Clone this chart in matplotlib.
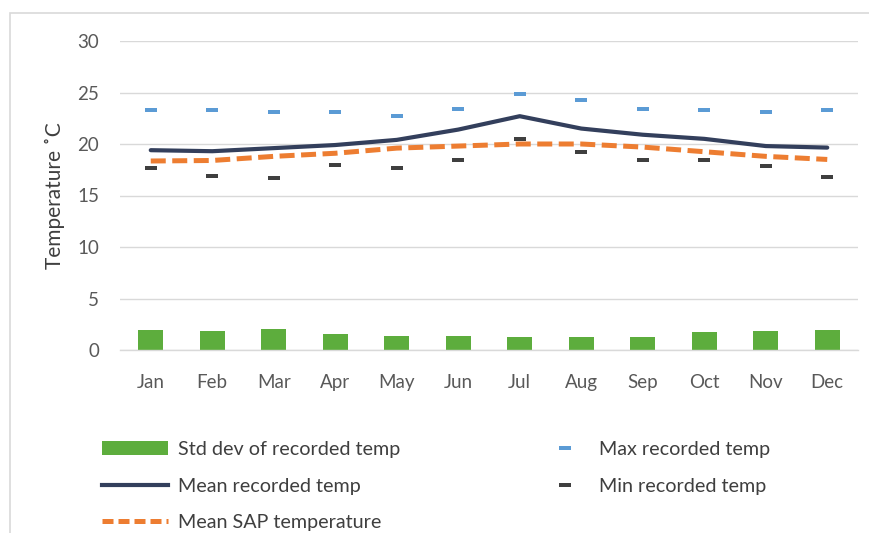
import matplotlib
matplotlib.use("Agg")
import matplotlib.pyplot as plt
from matplotlib.lines import Line2D
from matplotlib.patches import Patch, Rectangle
import numpy as np

months = ["Jan", "Feb", "Mar", "Apr", "May", "Jun",
          "Jul", "Aug", "Sep", "Oct", "Nov", "Dec"]
std_dev = [1.94, 1.84, 2.07, 1.60, 1.40, 1.40, 1.26, 1.26, 1.23, 1.70, 1.84, 1.90]
mean_recorded = [19.4, 19.3, 19.6, 19.9, 20.4, 21.4, 22.7, 21.5, 20.9, 20.5, 19.8, 19.65]
mean_sap = [18.35, 18.4, 18.8, 19.1, 19.6, 19.8, 20.0, 20.0, 19.7, 19.25, 18.8, 18.5]
max_recorded = [23.3, 23.3, 23.1, 23.1, 22.7, 23.4, 24.9, 24.3, 23.4, 23.3, 23.1, 23.3]
min_recorded = [17.7, 16.9, 16.7, 18.0, 17.7, 18.4, 20.5, 19.2, 18.4, 18.4, 17.9, 16.8]
y_ticks = [0, 5, 10, 15, 20, 25, 30]

GREEN = "#5DAD3D"
NAVY = "#333F5C"
ORANGE = "#ED7D31"
BLUE = "#5B9BD5"
DARK = "#3F3F3F"
GRID = "#D9D9D9"
TICK = "#595959"

plt.rcParams["font.family"] = ["Lato", "DejaVu Sans"]

W, H = 869, 533
fig = plt.figure(figsize=(W / 100, H / 100), dpi=100)

# outer chart frame (extends past the right and bottom edges)
fig.patches.append(Rectangle((10 / W, -0.1), 1.2, (1 - 13 / H) + 0.1,
                             transform=fig.transFigure, fill=False,
                             edgecolor=GRID, linewidth=1.2))

ax = fig.add_axes([120 / W, 1 - 350 / H, (858 - 120) / W, (350 - 41) / H])
x = np.arange(len(months))

# dash-shaped marker for the max/min points
dash = [(-1, -0.38), (1, -0.38), (1, 0.38), (-1, 0.38), (-1, -0.38)]

ax.bar(x, std_dev, width=0.41, color=GREEN, zorder=2,
       label="Std dev of recorded temp")
ax.plot(x, mean_recorded, color=NAVY, linewidth=3, solid_capstyle="round",
        zorder=3, label="Mean recorded temp")
ax.plot(x, mean_sap, color=ORANGE, linewidth=3.6, dashes=(3.0, 1.3),
        zorder=4, label="Mean SAP temperature")
ax.plot(x, max_recorded, linestyle="none", marker=dash, markersize=8,
        color=BLUE, markeredgewidth=0, zorder=5, label="Max recorded temp")
ax.plot(x, min_recorded, linestyle="none", marker=dash, markersize=8,
        color=DARK, markeredgewidth=0, zorder=5, label="Min recorded temp")

ax.set_xlim(-0.5, len(months) - 0.5)
ax.set_ylim(0, 30)
ax.set_yticks(y_ticks)
ax.set_xticks(x)
ax.set_xticklabels(months)
ax.yaxis.grid(True, color=GRID, linewidth=1)
ax.set_axisbelow(True)
for s in ["top", "right", "left"]:
    ax.spines[s].set_visible(False)
ax.spines["bottom"].set_color(GRID)
ax.spines["bottom"].set_linewidth(1)
ax.tick_params(axis="both", length=0, labelsize=13.5, colors=TICK)
ax.tick_params(axis="y", pad=15)
ax.tick_params(axis="x", pad=17)
ax.set_ylabel("Temperature ˚C", fontsize=15, color=DARK, labelpad=9)

# legend: two columns below the plot
h_std = Patch(facecolor=GREEN, edgecolor="none")
h_mean = Line2D([], [], color=NAVY, linewidth=3)
h_sap = Line2D([], [], color=ORANGE, linewidth=3.6, dashes=(2.2, 1.0))
h_max = Line2D([], [], linestyle="none", marker=dash, markersize=8,
               color=BLUE, markeredgewidth=0)
h_min = Line2D([], [], linestyle="none", marker=dash, markersize=8,
               color=DARK, markeredgewidth=0)

common = dict(frameon=False, fontsize=14.2, handletextpad=0.5,
              labelspacing=1.0, borderpad=0, labelcolor=DARK,
              handleheight=0.7)
leg1 = fig.legend([h_std, h_mean, h_sap],
                  ["Std dev of recorded temp", "Mean recorded temp",
                   "Mean SAP temperature"],
                  loc="upper left", bbox_to_anchor=(92 / W, 1 - 431 / H),
                  handlelength=3.35, **common)
leg2 = fig.legend([h_max, h_min],
                  ["Max recorded temp", "Min recorded temp"],
                  loc="upper left", bbox_to_anchor=(530 / W, 1 - 431 / H),
                  handlelength=2.5, **common)

fig.savefig("out.png", dpi=100)
